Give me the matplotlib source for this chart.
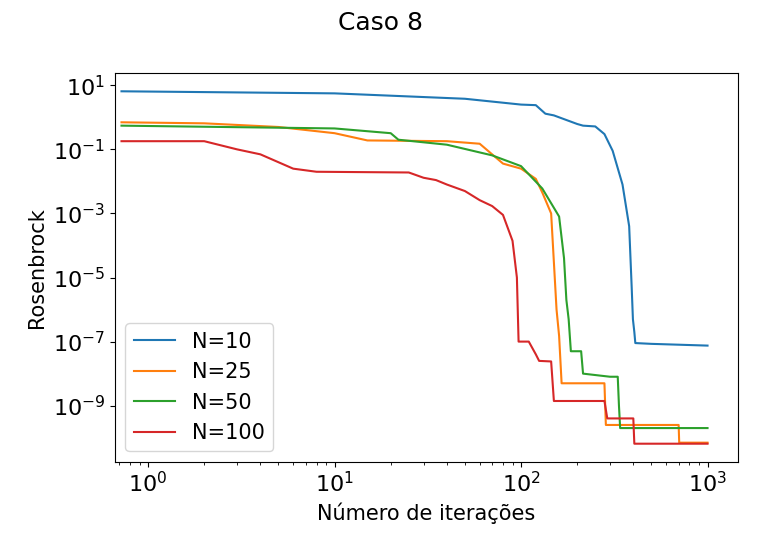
import matplotlib
matplotlib.use('Agg')
import matplotlib.pyplot as plt

# values (iteration, Rosenbrock)
it_10 = [0.72, 10, 50, 100, 120, 135, 150, 200, 215, 250, 280, 310, 350, 380, 392, 398, 405, 410, 500, 1000]
f_10 = [6.5, 5.6, 3.8, 2.5, 2.4, 1.3, 1.15, 0.62, 0.55, 0.52, 0.3, 0.09, 0.008, 4e-4, 5e-6, 5e-7, 2e-7, 9e-8, 8.5e-8, 7.5e-8]

it_25 = [0.72, 2, 5, 10, 15, 40, 60, 80, 100, 120, 130, 145, 150, 155, 160, 165, 280, 285, 700, 705, 1000]
f_25 = [0.7, 0.65, 0.5, 0.32, 0.19, 0.18, 0.15, 0.036, 0.025, 0.012, 0.0045, 1e-3, 3e-5, 1e-6, 1.5e-7, 5e-9, 5e-9, 2.5e-10, 2.5e-10, 7e-11, 7e-11]

it_50 = [0.72, 10, 20, 22, 40, 70, 100, 130, 150, 160, 170, 175, 180, 185, 210, 215, 300, 330, 335, 340, 1000]
f_50 = [0.55, 0.45, 0.32, 0.2, 0.14, 0.065, 0.03, 0.006, 0.0015, 8e-4, 4e-5, 2e-6, 5e-7, 5e-8, 5e-8, 1e-8, 8e-9, 8e-9, 1e-9, 2e-10, 2e-10]

it_100 = [0.72, 2, 3, 4, 6, 8, 25, 30, 35, 40, 50, 60, 70, 80, 90, 95, 97, 110, 120, 125, 145, 150, 280, 290, 400, 405, 1000]
f_100 = [0.18, 0.18, 0.1, 0.07, 0.025, 0.02, 0.019, 0.013, 0.011, 0.008, 0.005, 0.0026, 0.0017, 9e-4, 1.4e-4, 1e-5, 1e-7, 1e-7, 4e-8, 2.5e-8, 2.4e-8, 1.4e-9, 1.4e-9, 4e-10, 4e-10, 6.5e-11, 6.5e-11]

series = [('N=10', it_10, f_10), ('N=25', it_25, f_25),
          ('N=50', it_50, f_50), ('N=100', it_100, f_100)]

plt.rcParams.update({'font.size': 16})
fig, ax = plt.subplots(figsize=(7.62, 5.51), dpi=100)
for name, x, y in series:
    ax.plot(x, y, label=name, linewidth=1.5)
ax.set_xscale('log')
ax.set_yscale('log')
ax.set_xlim(0.665, 1450)
ax.set_ylim(10**-10.75, 10**1.375)
ax.set_xlabel('Número de iterações', fontsize=15)
ax.set_ylabel('Rosenbrock', fontsize=15)
ax.legend(loc='lower left', fontsize=15)
fig.suptitle('Caso 8', fontsize=18)
fig.subplots_adjust(left=0.151, right=0.968, top=0.867, bottom=0.162)
fig.savefig('out.png')
